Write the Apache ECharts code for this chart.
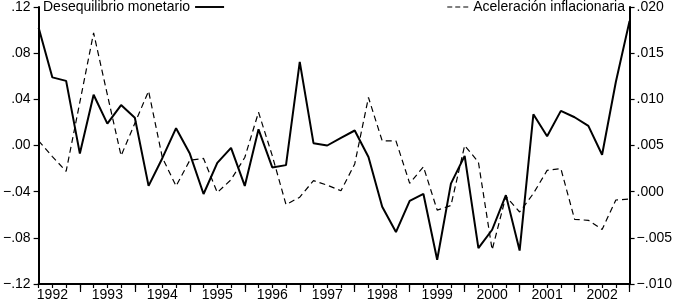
<!DOCTYPE html>
<html>
<head>
<meta charset="utf-8">
<script src="https://cdn.jsdelivr.net/npm/echarts@6/dist/echarts.min.js"></script>
<style>
  html, body { margin: 0; padding: 0; background: #fff; }
  #chart { width: 675px; height: 303px; }
</style>
</head>
<body>
<div id="chart"></div>
<script>
// quarterly data, 1992Q2 .. 2003Q1
const years = ['1992', '1993', '1994', '1995', '1996', '1997', '1998', '1999', '2000', '2001', '2002', '2003'];
const quarters = [];
years.forEach(y => ['Q1', 'Q2', 'Q3', 'Q4'].forEach(q => quarters.push(y + q)));
const categories = quarters.slice(1, 45);

// left axis
const desequilibrio = [
  0.102, 0.059, 0.056, -0.007, 0.044, 0.019, 0.035, 0.024, -0.035, -0.011,
  0.015, -0.007, -0.042, -0.015, -0.002, -0.035, 0.014, -0.019, -0.017, 0.0725,
  0.002, 0.000, 0.0067, 0.013, -0.010, -0.053, -0.075, -0.048, -0.042, -0.099,
  -0.033, -0.009, -0.089, -0.073, -0.043, -0.091, 0.027, 0.008, 0.030, 0.0245,
  0.017, -0.008, 0.055, 0.108
];
// right axis
const aceleracion = [
  0.0055, 0.0038, 0.0022, 0.0097, 0.0172, 0.0105, 0.0039, 0.0074, 0.0109, 0.0037,
  0.0006, 0.0034, 0.0036, -0.0001, 0.0013, 0.0037, 0.0086, 0.0039, -0.0014, -0.0006,
  0.0012, 0.0007, 0.0001, 0.0030, 0.0102, 0.0055, 0.0055, 0.0009, 0.0027, -0.0020,
  -0.0015, 0.0050, 0.0032, -0.0063, -0.0005, -0.0022, -0.0002, 0.0023, 0.0025, -0.0030,
  -0.0031, -0.0041, -0.0009, -0.0008
];

const font = 'Liberation Sans, Arial, sans-serif';
const narrow = 'Liberation Sans Narrow, Arial Narrow, Liberation Sans, sans-serif';

function fmt(v, d) {
  const s = Math.abs(v).toFixed(d).replace(/^0/, '');
  return (v < -1e-9 ? '\u2212' : '') + s;
}

const chart = echarts.init(document.getElementById('chart'));
const plotHeight = 303 - 6 - 19;

const option = {
  animation: false,
  textStyle: { fontFamily: font },
  grid: { left: 34, right: 42, top: 6, bottom: 19 },
  legend: [
    {
      left: 43, top: 0, padding: 0,
      align: 'right',
      icon: 'path://M0,0H30V2H0Z',
      itemWidth: 29, itemHeight: 2,
      data: ['Desequilibrio monetario'],
      textStyle: { fontFamily: font, fontSize: 14, color: '#000' }
    },
    {
      right: 50, top: 0, padding: 0,
      align: 'left',
      icon: 'path://M0,0H5V1H0Z M8,0H13V1H8Z M16,0H21V1H16Z',
      itemWidth: 21, itemHeight: 1.2,
      data: ['Aceleración inflacionaria'],
      textStyle: { fontFamily: font, fontSize: 14, color: '#000' }
    }
  ],
  xAxis: [
    {
      type: 'category',
      data: categories,
      boundaryGap: false,
      position: 'bottom',
      axisLine: { onZero: false, lineStyle: { color: '#000', width: 2 } },
      axisTick: { show: true, interval: 0, length: 4, lineStyle: { color: '#000', width: 1.2 } },
      axisLabel: {
        interval: (i) => i % 4 === 1,
        formatter: (v) => v.slice(0, 4),
        color: '#000', fontSize: 14, margin: 4, fontFamily: narrow
      },
      splitLine: { show: false }
    },
    {
      // taller ticks at each Q1, drawn on a second axis moved down onto the bottom line
      type: 'category',
      data: categories,
      boundaryGap: false,
      position: 'top',
      offset: -plotHeight,
      axisLine: { show: false, onZero: false },
      axisTick: { show: true, inside: true, interval: (i) => i % 4 === 3, length: 7, lineStyle: { color: '#000', width: 1.2 } },
      axisLabel: { show: false },
      splitLine: { show: false }
    }
  ],
  yAxis: [
    {
      type: 'value',
      position: 'left',
      min: -0.12, max: 0.12, interval: 0.04,
      axisLine: { show: true, lineStyle: { color: '#000', width: 2 } },
      axisTick: { show: true, length: 5, lineStyle: { color: '#000', width: 1.2 } },
      axisLabel: { formatter: (v) => fmt(v, 2), color: '#000', fontSize: 14, margin: 8, fontFamily: font },
      splitLine: { show: false }
    },
    {
      type: 'value',
      position: 'right',
      min: -0.010, max: 0.020, interval: 0.005,
      axisLine: { show: true, lineStyle: { color: '#000', width: 2 } },
      axisTick: { show: true, length: 5, lineStyle: { color: '#000', width: 1.2 } },
      axisLabel: { formatter: (v) => fmt(v, 3), color: '#000', fontSize: 14, margin: 7, fontFamily: font },
      splitLine: { show: false }
    }
  ],
  series: [
    {
      name: 'Desequilibrio monetario',
      type: 'line',
      xAxisIndex: 0,
      yAxisIndex: 0,
      data: desequilibrio,
      symbol: 'none',
      itemStyle: { color: '#000' },
      lineStyle: { color: '#000', width: 2 },
      z: 3
    },
    {
      name: 'Aceleración inflacionaria',
      type: 'line',
      xAxisIndex: 0,
      yAxisIndex: 1,
      data: aceleracion,
      symbol: 'none',
      itemStyle: { color: '#000' },
      lineStyle: { color: '#000', width: 1.2, type: [6, 4] },
      z: 2
    }
  ]
};

chart.setOption(option);
</script>
</body>
</html>
